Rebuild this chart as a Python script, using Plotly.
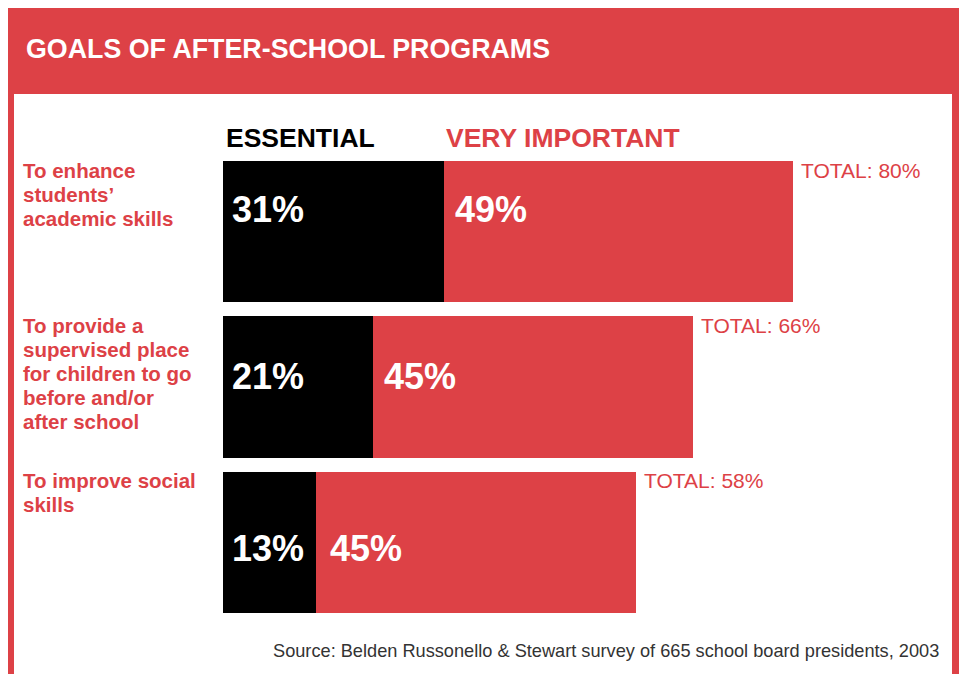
import plotly.graph_objects as go

# ---- data ----
goals = [
    "To enhance<br>students’<br>academic skills",
    "To provide a<br>supervised place<br>for children to go<br>before and/or<br>after school",
    "To improve social<br>skills",
]
essential = [31, 21, 13]
very_important = [49, 45, 45]
totals = [80, 66, 58]
series_names = ["ESSENTIAL", "VERY IMPORTANT"]

title = "GOALS OF AFTER-SCHOOL PROGRAMS"
source = "Source: Belden Russonello & Stewart survey of 665 school board presidents, 2003"

# ---- style ----
W, H = 959, 674
RED = "#DD4146"
BLACK = "#000000"
FONT = "Liberation Sans, Arial, Helvetica, sans-serif"
LABEL_LINE = 24  # px between category label lines

def px(x):
    return x / W

def py(y):
    return 1 - y / H

fig = go.Figure()
fig.add_trace(go.Bar(
    y=goals, x=essential, orientation="h", name=series_names[0],
    marker=dict(color=BLACK, line=dict(width=0)), hoverinfo="skip",
))
fig.add_trace(go.Bar(
    y=goals, x=very_important, orientation="h", name=series_names[1],
    marker=dict(color=RED, line=dict(width=0)), hoverinfo="skip",
))

annotations = []
# value labels inside bars
val_shift = [22, 11, -6]
for i, g in enumerate(goals):
    annotations.append(dict(
        x=0, y=g, xref="x", yref="y", text=f"<b>{essential[i]}%</b>",
        showarrow=False, xanchor="left", yanchor="middle", xshift=7,
        yshift=val_shift[i], font=dict(family=FONT, size=36, color="white"),
    ))
    annotations.append(dict(
        x=essential[i], y=g, xref="x", yref="y", text=f"<b>{very_important[i]}%</b>",
        showarrow=False, xanchor="left", yanchor="middle", xshift=9 if i != 2 else 12,
        yshift=val_shift[i], font=dict(family=FONT, size=36, color="white"),
    ))
    # totals
    annotations.append(dict(
        x=totals[i], y=g, xref="x", yref="y", text=f"TOTAL: {totals[i]}%",
        showarrow=False, xanchor="left", yanchor="top", xshift=6,
        yshift=75, font=dict(family=FONT, size=21, color=RED),
    ))
    # category labels, one annotation per line
    for k, line in enumerate(g.split("<br>")):
        annotations.append(dict(
            x=px(21), y=g, xref="paper", yref="y", text=f"<b>{line}</b>", align="left",
            showarrow=False, xanchor="left", yanchor="top",
            yshift=75 - LABEL_LINE * k, font=dict(family=FONT, size=20.5, color=RED),
        ))

# series headers
annotations.append(dict(
    x=0, y=py(138), xref="x", yref="paper", text=f"<b>{series_names[0]}</b>",
    showarrow=False, xanchor="left", yanchor="middle", xshift=1,
    font=dict(family=FONT, size=26.5, color=BLACK),
))
annotations.append(dict(
    x=essential[0], y=py(138), xref="x", yref="paper", text=f"<b>{series_names[1]}</b>",
    showarrow=False, xanchor="left", yanchor="middle", xshift=0,
    font=dict(family=FONT, size=26.5, color=RED),
))
# title
annotations.append(dict(
    x=px(24), y=py(49), xref="paper", yref="paper", text=f"<b>{title}</b>",
    showarrow=False, xanchor="left", yanchor="middle",
    font=dict(family=FONT, size=26.8, color="white"),
))
# source
annotations.append(dict(
    x=px(941), y=py(651), xref="paper", yref="paper", text=source,
    showarrow=False, xanchor="right", yanchor="middle",
    font=dict(family=FONT, size=18.2, color="#333333"),
))

shapes = [
    dict(type="rect", xref="paper", yref="paper", x0=px(8), x1=px(W + 5),
         y0=py(H + 5), y1=py(8), fillcolor=RED, line=dict(width=0), layer="below"),
    dict(type="rect", xref="paper", yref="paper", x0=px(14), x1=px(952),
         y0=py(H + 5), y1=py(94), fillcolor="white", line=dict(width=0), layer="below"),
]

fig.update_layout(
    width=W, height=H,
    margin=dict(l=0, r=0, t=0, b=0),
    paper_bgcolor="white", plot_bgcolor="rgba(0,0,0,0)",
    barmode="stack", bargap=14 / 155,
    showlegend=False,
    annotations=annotations, shapes=shapes,
    xaxis=dict(domain=[px(223), px(223 + 712.5)], range=[0, 100],
               visible=False, fixedrange=True),
    yaxis=dict(domain=[py(620), py(154)], range=[2.5, -0.5],
               categoryorder="array", categoryarray=goals,
               visible=False, fixedrange=True),
)

fig.write_html("out.html", config={"displayModeBar": False})
